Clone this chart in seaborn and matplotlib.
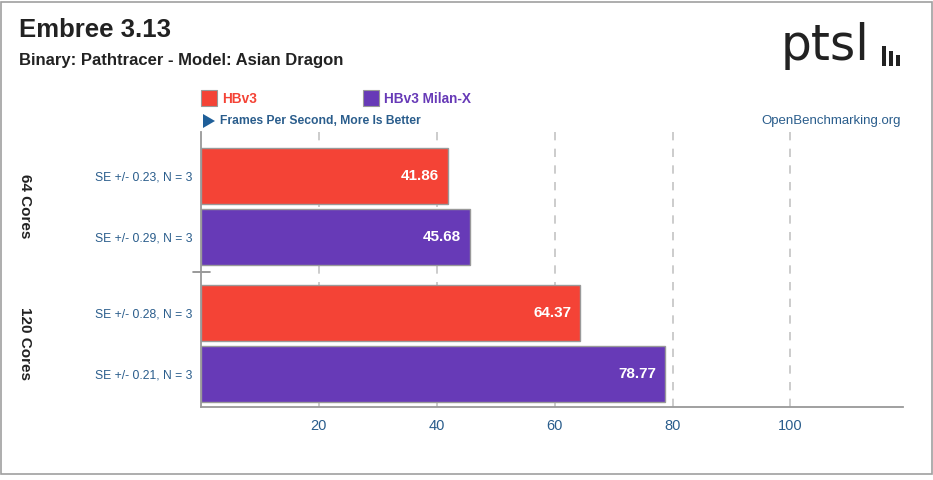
import matplotlib
matplotlib.use("Agg")
import matplotlib.pyplot as plt
from matplotlib.patches import Rectangle, Polygon
import seaborn as sns
import pandas as pd

sns.set_theme(style="white")
plt.rcParams['font.family'] = ['Liberation Sans', 'DejaVu Sans']

# ---- data ----
configs = ["64 Cores", "64 Cores", "120 Cores", "120 Cores"]
systems = ["HBv3", "HBv3 Milan-X", "HBv3", "HBv3 Milan-X"]
fps = [41.86, 45.68, 64.37, 78.77]
se_labels = ["SE +/- 0.23, N = 3", "SE +/- 0.29, N = 3",
             "SE +/- 0.28, N = 3", "SE +/- 0.21, N = 3"]
group_order = ["64 Cores", "120 Cores"]
series_order = ["HBv3", "HBv3 Milan-X"]
series_colors = ["#f44336", "#673ab7"]
xticks = [20, 40, 60, 80, 100]

title = "Embree 3.13"
subtitle = "Binary: Pathtracer - Model: Asian Dragon"
unit_text = "Frames Per Second, More Is Better"

df = pd.DataFrame({"config": configs, "system": systems, "fps": fps, "se": se_labels})

W, H = 933, 480
fig = plt.figure(figsize=(W / 100, H / 100), dpi=100)
fx = lambda px: px / W
fy = lambda py: 1 - py / H

ax = fig.add_axes([fx(201), fy(407), fx(903) - fx(201), fy(132) - fy(407)])

blue = "#2a5d8c"
gray = "#999999"

sns.barplot(data=df, y="config", x="fps", hue="system", orient="h",
            order=group_order, hue_order=series_order,
            palette=series_colors, saturation=1, width=0.887,
            edgecolor=gray, linewidth=1.0, ax=ax, legend=False)

# shrink bars slightly to leave a gap, label values, collect tick positions
ytick_pos, ytick_lab = [], []
for ci, cont in enumerate(ax.containers):
    for bi, p in enumerate(cont):
        h = p.get_height()
        gap = 0.018
        p.set_y(p.get_y() + gap)
        p.set_height(h - 2 * gap)
        yc = p.get_y() + p.get_height() / 2
        val = p.get_width()
        ax.annotate(f"{val:.2f}", xy=(val, yc), xytext=(-6.5, 0),
                    textcoords="offset points", ha="right", va="center",
                    color="white", fontweight="bold", fontsize=11)
        row = df[(df.config == group_order[bi]) & (df.system == series_order[ci])].iloc[0]
        ytick_pos.append(yc)
        ytick_lab.append(row.se)

ax.set_yticks(ytick_pos)
ax.set_yticklabels(ytick_lab)
ax.tick_params(axis="y", length=0, pad=6, labelsize=8.7, labelcolor=blue)

ax.set_xlim(0, 119.1)
ax.set_ylim(1.46, -0.54)
ax.set_xticks(xticks)
ax.set_xticklabels([str(t) for t in xticks])
ax.tick_params(axis="x", length=5, width=1, color=gray, pad=4, labelsize=10.5, labelcolor=blue)
ax.set_xlabel("")
ax.set_ylabel("")

ax.grid(axis="x", linestyle=(0, (5, 5)), color="#c4c4c4", linewidth=1.2)
ax.grid(axis="y", visible=False)
ax.set_axisbelow(True)

for s in ["top", "right"]:
    ax.spines[s].set_visible(False)
for s in ["left", "bottom"]:
    ax.spines[s].set_color(gray)
    ax.spines[s].set_linewidth(1.3)

# group labels
ytr = ax.get_yaxis_transform()
for gi, g in enumerate(group_order):
    ax.text(-176 / 702, gi, g, transform=ytr, rotation=-90, ha="center", va="center",
            fontsize=11, fontweight="bold", color="#222222")
# divider between groups
ax.plot([-8 / 702, 9 / 702], [0.48, 0.48], transform=ytr, color="#888888", lw=1.2, clip_on=False)

# titles
fig.text(fx(19), fy(30), title, fontsize=18.5, fontweight="bold", color="#222222", va="center", ha="left")
fig.text(fx(19), fy(60), subtitle, fontsize=12, fontweight="bold", color="#222222", va="center", ha="left")

# legend
leg_x = [201, 363]
for lx, name, col in zip(leg_x, series_order, series_colors):
    fig.patches.append(Rectangle((fx(lx), fy(106)), 16 / W, 16 / H, transform=fig.transFigure,
                                 facecolor=col, edgecolor=gray, lw=0.8))
    fig.text(fx(lx + 21), fy(99), name, fontsize=9.8, fontweight="bold", color=col, va="center", ha="left")

fig.patches.append(Polygon([(fx(203), fy(114)), (fx(203), fy(128)), (fx(215), fy(121))],
                           closed=True, transform=fig.transFigure, facecolor="#1f5f99", edgecolor="none"))
fig.text(fx(220), fy(121), unit_text, fontsize=8.75, fontweight="bold", color=blue, va="center", ha="left")
fig.text(fx(901), fy(121), "OpenBenchmarking.org", fontsize=9.5, color=blue, va="center", ha="right")

# logo
fig.text(fx(781), fy(46), "ptsl", fontsize=35, color="#222222", va="center", ha="left",
         family=["DejaVu Sans"])
for bx, bh in zip([882, 889, 896], [20, 15, 11]):
    fig.patches.append(Rectangle((fx(bx), fy(66)), 4 / W, bh / H, transform=fig.transFigure,
                                 facecolor="#222222", edgecolor="none"))

# border
fig.patches.append(Rectangle((fx(1), fy(474)), 931 / W, 472 / H, transform=fig.transFigure,
                             fill=False, edgecolor="#a0a0a0", lw=1.2))

fig.savefig("out.png", dpi=100, facecolor="white")
